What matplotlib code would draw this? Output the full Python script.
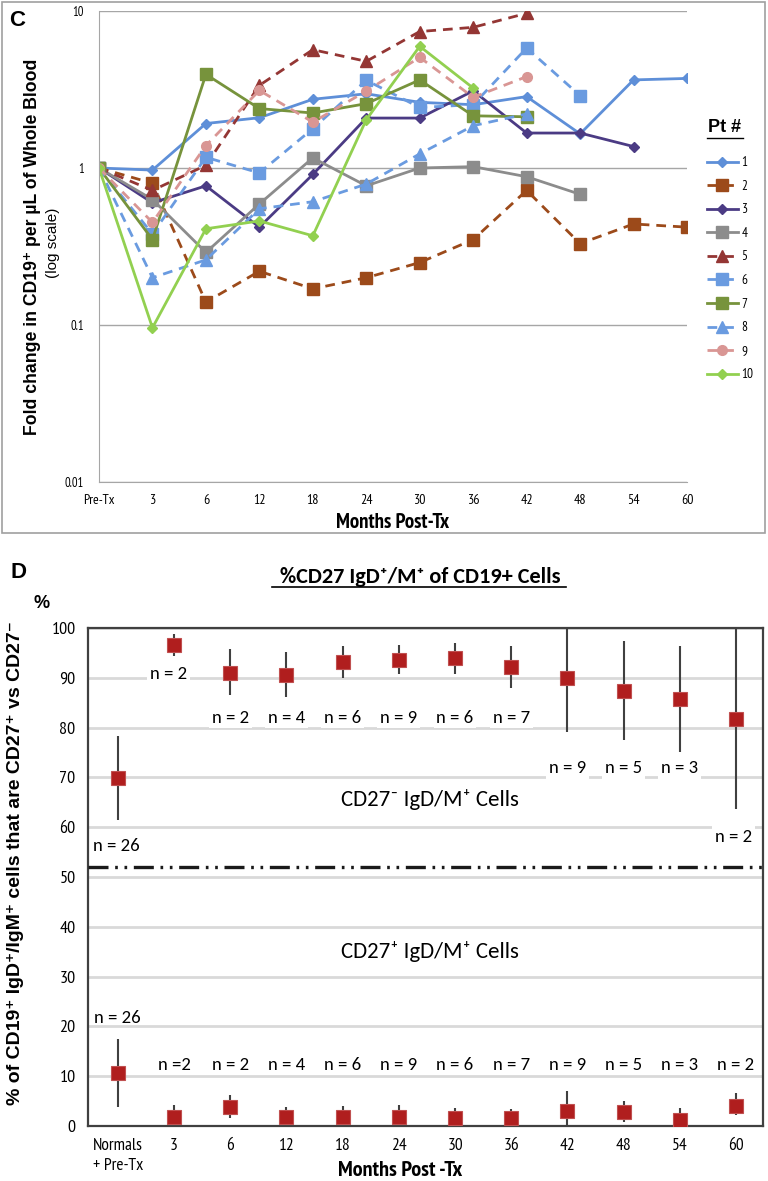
import matplotlib
matplotlib.use("Agg")
import matplotlib.pyplot as plt
from matplotlib.lines import Line2D
from matplotlib.patches import Rectangle
import numpy as np

# ---- Panel C data: fold change vs months post-Tx ----
months_c = ["Pre-Tx", "3", "6", "12", "18", "24", "30", "36", "42", "48", "54", "60"]
pt1 = [1, 0.97, 1.92, 2.09, 2.74, 2.97, 2.62, 2.53, 2.85, 1.65, 3.64, 3.72]
pt2 = [1, 0.80, 0.14, 0.22, 0.17, 0.20, 0.25, 0.35, 0.72, 0.33, 0.44, 0.42]
pt3 = [1, 0.60, 0.77, 0.42, 0.91, 2.08, 2.08, 3.10, 1.67, 1.67, 1.37]
pt4 = [1, 0.63, 0.29, 0.59, 1.16, 0.77, 1.00, 1.02, 0.88, 0.68]
pt5 = [1, 0.72, 1.04, 3.36, 5.67, 4.78, 7.40, 7.87, 9.67]
pt6 = [1, 0.38, 1.17, 0.93, 1.78, 3.62, 2.43, 2.53, 5.81, 2.89]
pt7 = [1, 0.35, 3.95, 2.39, 2.24, 2.57, 3.64, 2.15, 2.12]
pt8 = [1, 0.20, 0.26, 0.55, 0.61, 0.79, 1.23, 1.86, 2.21]
pt9 = [1, 0.45, 1.39, 3.12, 1.96, 3.09, 5.07, 2.82, 3.82]
pt10 = [1, 0.096, 0.41, 0.46, 0.37, 2.03, 5.96, 3.23]

# ---- Panel D data: % CD27- / CD27+ of IgD+/IgM+ cells ----
groups_d = ["Normals\n+ Pre-Tx", "3", "6", "12", "18", "24", "30", "36", "42", "48", "54", "60"]
n_counts = [26, 2, 2, 4, 6, 9, 6, 7, 9, 5, 3, 2]
neg_mean = [69.9, 96.6, 91.0, 90.6, 93.2, 93.6, 93.9, 92.1, 89.9, 87.4, 85.7, 81.7]
neg_hi = [78.3, 98.7, 95.7, 95.1, 96.3, 96.5, 96.9, 96.3, 100.0, 97.3, 96.4, 100.0]
neg_lo = [61.4, 94.4, 86.5, 86.2, 89.9, 90.7, 90.8, 87.9, 79.2, 77.5, 75.2, 63.6]
pos_mean = [10.7, 1.9, 3.9, 1.9, 1.9, 1.9, 1.7, 1.6, 3.1, 2.8, 1.2, 4.1]
pos_hi = [17.4, 4.3, 6.3, 3.9, 4.1, 4.3, 3.6, 3.4, 7.1, 5.1, 3.7, 6.6]
pos_lo = [3.9, 0.0, 1.6, -0.5, -0.1, 0.0, 0.0, 0.0, 0.0, 0.9, -0.4, 2.2]

NARROW = ["PT Sans Narrow", "Archivo Narrow", "DejaVu Sans"]
ARIAL = ["Liberation Sans", "DejaVu Sans"]
CALIB = ["Carlito", "Lato", "DejaVu Sans"]

W, H = 768, 1181
fig = plt.figure(figsize=(W / 100, H / 100), dpi=100)


def fx(px):
    return px / W


def fy(py):
    return 1 - py / H


# ================= Panel C =================
axc = fig.add_axes([fx(99), fy(482), fx(687) - fx(99), fy(11) - fy(482)])

series = [
    ("1", pt1, "#5E8FD8", "-", "D", 5.5),
    ("2", pt2, "#9C4A1A", "--", "s", 8),
    ("3", pt3, "#4B3B84", "-", "D", 5.5),
    ("4", pt4, "#8C8C8C", "-", "s", 8),
    ("5", pt5, "#943634", "--", "^", 8),
    ("6", pt6, "#6A9BE0", "--", "s", 8),
    ("7", pt7, "#77933C", "-", "s", 8),
    ("8", pt8, "#6A9BE0", "--", "^", 8),
    ("9", pt9, "#D99694", "--", "o", 7),
    ("10", pt10, "#92D050", "-", "D", 5.5),
]
for name, vals, col, ls, mk, ms in series:
    xs = np.arange(len(vals))
    axc.plot(xs, vals, color=col, ls=ls, lw=2, marker=mk, ms=ms,
             mfc=col, mec=col, label=name, dashes=(3.5, 2.5) if ls == "--" else (None, None))

axc.set_yscale("log")
axc.set_ylim(0.01, 10)
axc.set_xlim(0, 11)
axc.set_yticks([0.01, 0.1, 1, 10])
axc.set_yticklabels(["0.01", "0.1", "1", "10"], family=NARROW, fontsize=9)
axc.minorticks_off()
axc.set_xticks(range(len(months_c)))
axc.set_xticklabels(months_c, family=NARROW, fontsize=10)
axc.tick_params(axis="y", length=0, pad=11)
axc.tick_params(axis="x", length=0, pad=9)
axc.grid(axis="y", color="#A6A6A6", lw=1)
axc.set_axisbelow(True)
for s in ["top", "right"]:
    axc.spines[s].set_visible(False)
axc.spines["left"].set_color("#A6A6A6")
axc.spines["bottom"].set_color("#A6A6A6")
fig.text(fx(393), fy(523), "Months Post-Tx", ha="center", va="center",
         family=NARROW, fontsize=15, fontweight="bold")

fig.text(fx(33), fy(247), "Fold change in CD19\u207a per \u00b5L of Whole Blood", rotation=90,
         ha="center", va="center", family=ARIAL, fontsize=12.7, fontweight="bold")
fig.text(fx(53), fy(243), "(log scale)", rotation=90, ha="center", va="center",
         family=ARIAL, fontsize=11)
fig.text(fx(9), fy(21), "C", ha="left", va="center", family=ARIAL, fontsize=16, fontweight="bold")

leg = axc.legend(loc="upper left", bbox_to_anchor=(fx(702), fy(151)), bbox_transform=fig.transFigure,
                 frameon=False, prop={"family": NARROW, "size": 9.5}, handlelength=2.3,
                 handletextpad=0.3, labelspacing=0.8, borderaxespad=0)
fig.text(fx(725), fy(128), "Pt #", ha="center", va="center", family=ARIAL, fontsize=13, fontweight="bold")
fig.add_artist(Line2D([fx(707), fx(743)], [fy(138), fy(138)], transform=fig.transFigure, color="k", lw=1))

fig.add_artist(Rectangle((fx(2), fy(533)), fx(765) - fx(2), fy(2) - fy(533), transform=fig.transFigure,
                         fill=False, ec="#A0A0A0", lw=1.2))

# ================= Panel D =================
axd = fig.add_axes([fx(88), fy(1126), fx(763) - fx(88), fy(628) - fy(1126)])
xd = np.arange(len(groups_d))
neg_mean_a = np.array(neg_mean)
pos_mean_a = np.array(pos_mean)
axd.errorbar(xd, neg_mean, yerr=[neg_mean_a - np.array(neg_lo), np.array(neg_hi) - neg_mean_a],
             fmt="s", color="#B01E1E", ms=10, mec="#C05050", mew=0.8, ecolor="#404040",
             elinewidth=1.5, capsize=0, zorder=4)
axd.errorbar(xd, pos_mean, yerr=[pos_mean_a - np.array(pos_lo), np.array(pos_hi) - pos_mean_a],
             fmt="s", color="#B01E1E", ms=10, mec="#C05050", mew=0.8, ecolor="#404040",
             elinewidth=1.5, capsize=0, zorder=4)

axd.set_xlim(-0.53, 11.48)
axd.set_ylim(0, 100)
axd.set_yticks(range(0, 101, 10))
axd.set_yticklabels([str(v) for v in range(0, 101, 10)], family=NARROW, fontsize=13)
axd.set_xticks(xd)
axd.set_xticklabels(groups_d, family=NARROW, fontsize=12.5, linespacing=1.3)
axd.tick_params(axis="y", length=0, pad=9)
axd.tick_params(axis="x", length=0, pad=9)
axd.grid(axis="y", color="#D9D9D9", lw=2)
axd.set_axisbelow(True)
for s in axd.spines.values():
    s.set_color("#404040")
    s.set_linewidth(1.6)
fig.text(fx(400), fy(1170), "Months Post -Tx", ha="center", va="center",
         family=NARROW, fontsize=16, fontweight="bold")

sep = axd.axhline(52, color="#1A1A1A", lw=2.4, zorder=3)
sep.set_dashes([6, 2, 0.8, 2, 0.8, 2])

# n = labels
up_y = [56.2, 90.8, 82, 82, 82, 82, 82, 82, 71.8, 71.8, 71.8, 58]
up_x = [-0.44, 0.9, 2, 3, 4, 5, 6, 7, 8, 9, 10, 10.95]
for i, n in enumerate(n_counts):
    axd.text(up_x[i], up_y[i], f"n = {n}", ha="left" if i == 0 else "center", va="center",
             family=CALIB, fontsize=13.5, fontweight="medium", color="#000000", zorder=5,
             bbox=dict(fc="white", ec="none", pad=2))
low_y = [21.6] + [12.3] * 11
for i, n in enumerate(n_counts):
    lab = f"n ={n}" if i == 1 else f"n = {n}"
    axd.text(xd[i], low_y[i], lab, ha="center", va="center", family=CALIB, fontsize=13.5,
             fontweight="medium", color="#000000", zorder=5)

axd.text(5.55, 65.5, "CD27\u207b IgD/M\u207a Cells", ha="center", va="center", family=CALIB, fontsize=16.5)
axd.text(5.55, 35.1, "CD27\u207a IgD/M\u207a Cells", ha="center", va="center", family=CALIB, fontsize=16.5)

fig.text(fx(11), fy(573), "D", ha="left", va="center", family=ARIAL, fontsize=16, fontweight="bold")
fig.text(fx(420), fy(577), "%CD27 IgD\u207a/M\u207a of CD19+ Cells", ha="center", va="center",
         family=CALIB, fontsize=16, fontweight="bold")
fig.add_artist(Line2D([fx(272), fx(566)], [fy(587), fy(587)], transform=fig.transFigure, color="k", lw=1.2))
fig.text(fx(42), fy(603), "%", ha="center", va="center", family=ARIAL, fontsize=13, fontweight="bold")
fig.text(fx(16), fy(863), "% of CD19\u207a IgD\u207a/IgM\u207a cells that are CD27\u207a vs CD27\u207b",
         rotation=90, ha="center", va="center", family=ARIAL, fontsize=14, fontweight="bold")

fig.savefig("out.png", dpi=100)
